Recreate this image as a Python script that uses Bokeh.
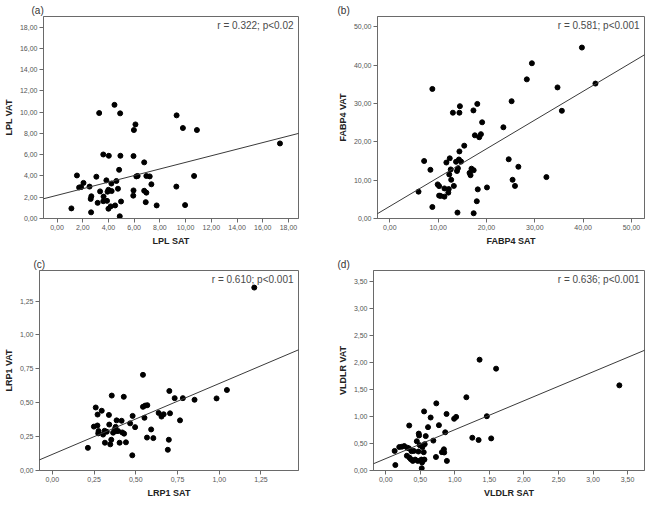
from bokeh.plotting import figure
from bokeh.layouts import column, row
from bokeh.models import FixedTicker, Slope, Label, Range1d
from bokeh.embed import file_html
from bokeh.resources import INLINE

FONT = "Liberation Sans"

# ---------------- Panel (a): LPL ----------------
a_sat = [1.12, 1.55, 1.72, 1.87, 2.06, 2.53, 2.62, 2.67, 2.65, 3.06, 3.16, 3.28, 3.35, 3.60,
         3.62, 3.60, 3.84, 3.89, 3.93, 4.00, 4.03, 4.00, 4.17, 4.23, 4.25, 4.47, 4.52, 4.62,
         4.74, 4.83, 4.88, 4.91, 4.93, 4.98, 5.95, 5.98, 5.95, 5.93, 6.10, 6.17, 6.27, 6.78,
         6.78, 6.95, 6.95, 6.90, 7.21, 7.34, 7.75, 9.30, 9.28, 9.79, 9.96, 10.66, 10.88, 17.34]
a_vat = [0.95, 4.05, 2.92, 2.95, 3.35, 3.00, 1.84, 2.09, 0.58, 3.93, 1.47, 9.92, 2.55, 6.02,
         2.06, 1.63, 3.59, 1.66, 2.52, 2.70, 5.90, 0.92, 1.14, 3.29, 2.58, 10.69, 1.23, 3.53,
         2.80, 4.58, 0.21, 9.89, 5.90, 1.60, 5.87, 8.32, 2.64, 2.15, 8.85, 3.96, 4.00, 5.28,
         2.61, 2.43, 4.00, 1.54, 3.96, 3.22, 1.23, 9.70, 3.00, 8.51, 1.26, 4.00, 8.32, 7.06]
a_fit = (2.18, 0.31)            # intercept, slope
a_xrange = (-1.05, 18.78)
a_yrange = (0.0, 19.0)
a_ticks = [0, 2, 4, 6, 8, 10, 12, 14, 16, 18]
a_labels = ["0,00", "2,00", "4,00", "6,00", "8,00", "10,00", "12,00", "14,00", "16,00", "18,00"]
a_note = "r = 0.322; p<0.02"

# ---------------- Panel (b): FABP4 ----------------
b_sat = [5.94, 7.10, 8.40, 8.80, 8.80, 9.90, 10.20, 10.20, 10.50, 11.30, 11.30, 11.70, 12.10,
         12.20, 12.30, 12.40, 12.60, 12.70, 13.05, 13.25, 13.70, 13.90, 14.00, 14.10, 14.30,
         14.40, 14.50, 14.40, 14.75, 15.40, 16.50, 16.70, 16.90, 17.30, 17.35, 17.35, 17.60,
         18.00, 18.10, 18.20, 18.50, 18.85, 19.10, 20.10, 23.50, 24.60, 25.20, 25.40, 25.90,
         26.60, 28.35, 29.40, 32.40, 34.70, 35.60, 39.75, 42.55]
b_vat = [7.0, 15.0, 12.7, 33.8, 3.0, 8.9, 8.45, 5.97, 5.9, 5.7, 7.85, 14.6, 6.74,
         7.68, 11.5, 15.7, 12.8, 10.1, 27.6, 8.5, 14.8, 12.4, 1.54, 13.1, 15.4,
         27.6, 29.3, 17.5, 14.85, 19.0, 11.9, 11.3, 13.0, 28.2, 12.6, 1.37, 21.7,
         4.5, 29.9, 7.6, 21.2, 22.0, 25.1, 8.1, 23.8, 15.45, 30.6, 10.1, 8.5,
         13.5, 36.3, 40.5, 10.8, 34.2, 28.1, 44.6, 35.2]
b_fit = (3.18, 0.75)
b_xrange = (-2.55, 52.7)
b_yrange = (0.0, 52.7)
b_ticks = [0, 10, 20, 30, 40, 50]
b_labels = ["0,00", "10,00", "20,00", "30,00", "40,00", "50,00"]
b_note = "r = 0.581; p<0.001"

# ---------------- Panel (c): LRP1 ----------------
c_sat = [0.213, 0.249, 0.260, 0.270, 0.271, 0.275, 0.277, 0.296, 0.304, 0.313, 0.315, 0.326,
         0.339, 0.341, 0.347, 0.353, 0.356, 0.364, 0.373, 0.379, 0.385, 0.383, 0.394, 0.403,
         0.415, 0.419, 0.428, 0.430, 0.441, 0.466, 0.479, 0.481, 0.496, 0.543, 0.543, 0.552,
         0.556, 0.569, 0.567, 0.592, 0.605, 0.637, 0.654, 0.667, 0.692, 0.698, 0.701, 0.705,
         0.733, 0.765, 0.782, 0.852, 0.984, 1.046, 1.210]
c_vat = [0.167, 0.324, 0.465, 0.332, 0.413, 0.274, 0.291, 0.441, 0.265, 0.293, 0.205, 0.286,
         0.410, 0.339, 0.193, 0.227, 0.553, 0.279, 0.303, 0.322, 0.370, 0.291, 0.291, 0.205,
         0.367, 0.281, 0.544, 0.272, 0.208, 0.348, 0.112, 0.403, 0.320, 0.706, 0.470, 0.389,
         0.479, 0.482, 0.243, 0.303, 0.239, 0.425, 0.398, 0.415, 0.153, 0.227, 0.587, 0.422,
         0.534, 0.370, 0.534, 0.522, 0.532, 0.594, 1.350]
c_fit = (0.119, 0.523)
c_xrange = (-0.077, 1.475)
c_yrange = (0.0, 1.476)
c_xticks = [0, 0.25, 0.5, 0.75, 1.0, 1.25]
c_xlabels = ["0,00", "0,25", "0,50", "0,75", "1,00", "1,25"]
c_yticks = [0, 0.25, 0.5, 0.75, 1.0, 1.25]
c_ylabels = ["0,00", "0,25", "0,50", "0,75", "1,00", "1,25"]
c_note = "r = 0.610; p<0.001"

# ---------------- Panel (d): VLDLR ----------------
d_sat = [0.129, 0.139, 0.196, 0.234, 0.268, 0.306, 0.311, 0.335, 0.340, 0.344, 0.363, 0.373,
         0.392, 0.407, 0.426, 0.450, 0.464, 0.473, 0.478, 0.483, 0.493, 0.516, 0.521, 0.531,
         0.526, 0.545, 0.550, 0.555, 0.560, 0.564, 0.579, 0.612, 0.650, 0.689, 0.727, 0.732,
         0.770, 0.813, 0.842, 0.846, 0.861, 0.880, 0.885, 0.990, 1.019, 1.167, 1.253, 1.344,
         1.358, 1.463, 1.526, 1.597, 3.381]
d_vat = [0.362, 0.101, 0.434, 0.440, 0.452, 0.273, 0.422, 0.410, 0.832, 0.238, 0.208, 0.357,
         0.178, 0.362, 0.202, 0.541, 0.178, 0.351, 0.683, 0.648, 0.469, 0.202, 0.042, 0.434,
         0.149, 0.196, 0.339, 1.093, 0.202, 0.487, 0.636, 0.802, 0.980, 0.553, 0.250, 1.242,
         0.838, 0.339, 0.392, 0.333, 0.707, 1.046, 0.178, 0.957, 0.992, 1.355, 0.606, 0.564,
         2.050, 1.004, 0.594, 1.884, 1.575]
d_fit = (0.22, 0.535)
d_xrange = (-0.177, 3.745)
d_yrange = (0.0, 3.70)
d_ticks = [0, 0.5, 1.0, 1.5, 2.0, 2.5, 3.0, 3.5]
d_labels = ["0,00", "0,50", "1,00", "1,50", "2,00", "2,50", "3,00", "3,50"]
d_note = "r = 0.636; p<0.001"


def panel(tag, xs, ys, xr, yr, xticks, xlabels, yticks, ylabels, xtitle, ytitle, fit, note,
          w, h, bl, br, bt, bb, toff):
    p = figure(width=w, height=h, x_range=Range1d(*xr), y_range=Range1d(*yr),
               output_backend="svg", toolbar_location=None,
               min_border_left=bl, min_border_right=br, min_border_top=bt, min_border_bottom=bb)
    p.background_fill_color = "white"
    p.border_fill_color = "white"
    p.outline_line_color = "#6a6a6a"
    p.outline_line_width = 1
    p.xgrid.visible = False
    p.ygrid.visible = False

    p.title.text = tag
    p.title.text_font = FONT
    p.title.text_font_size = "10px"
    p.title.text_font_style = "normal"
    p.title.text_color = "#333333"
    p.title.align = "left"
    p.title.offset = toff
    p.title.standoff = 2

    for ax, ticks, labels, title in ((p.xaxis[0], xticks, xlabels, xtitle),
                                     (p.yaxis[0], yticks, ylabels, ytitle)):
        ax.ticker = FixedTicker(ticks=ticks)
        ax.major_label_overrides = dict(zip(ticks, labels))
        ax.axis_label = title
        ax.axis_line_color = "#6a6a6a"
        ax.major_tick_line_color = "#6a6a6a"
        ax.major_tick_out = 4
        ax.major_tick_in = 0
        ax.minor_tick_line_color = None
        ax.major_label_text_font = FONT
        ax.major_label_text_font_size = "7px"
        ax.major_label_text_color = "#555555"
        ax.major_label_standoff = 2
        ax.axis_label_text_font = FONT
        ax.axis_label_text_font_size = "9px"
        ax.axis_label_text_font_style = "bold"
        ax.axis_label_text_color = "#222222"
        ax.axis_label_standoff = 3

    p.add_layout(Slope(gradient=fit[1], y_intercept=fit[0], line_color="#3a3a3a", line_width=1))
    p.scatter(xs, ys, size=5, color="black")
    p.add_layout(Label(x=xr[1], y=yr[1], x_offset=-5, y_offset=-3, text=note,
                       text_align="right", text_baseline="top", text_font=FONT,
                       text_font_size="10px", text_color="#4a4a4a"))
    return p


pa = panel("(a)", a_sat, a_vat, a_xrange, a_yrange, a_ticks, a_labels, a_ticks, a_labels,
           "LPL SAT", "LPL VAT", a_fit, a_note, 330, 248, 36, 32, 16, 28, -12)
pb = panel("(b)", b_sat, b_vat, b_xrange, b_yrange, b_ticks, b_labels, b_ticks, b_labels,
           "FABP4 SAT", "FABP4 VAT", b_fit, b_note, 315, 248, 47, 1, 16, 28, -40)
pc = panel("(c)", c_sat, c_vat, c_xrange, c_yrange, c_xticks, c_xlabels, c_yticks, c_ylabels,
           "LRP1 SAT", "LRP1 VAT", c_fit, c_note, 330, 252, 33, 32, 22, 27, -6)
pd = panel("(d)", d_sat, d_vat, d_xrange, d_yrange, d_ticks, d_labels, d_ticks, d_labels,
           "VLDLR SAT", "VLDLR VAT", d_fit, d_note, 315, 252, 43, 1, 22, 27, -36)

layout = column(row(pa, pb), row(pc, pd))
open("out.html", "w").write(file_html(layout, INLINE))
